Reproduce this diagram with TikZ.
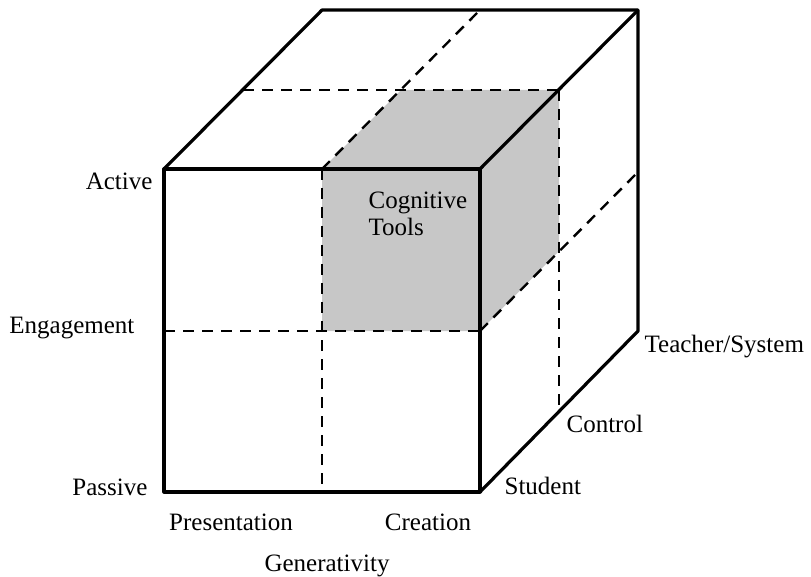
\documentclass[tikz,border=0pt]{standalone}
\usepackage{fontspec}
\setmainfont{Liberation Serif}
\usepackage{tikz}

\begin{document}
\begin{tikzpicture}[x=1pt,y=-1pt,line width=3.2pt,line join=round,
  every node/.style={font=\fontsize{25}{27}\selectfont,inner sep=0pt},
  grid/.style={line width=2.4pt,dash pattern=on 11pt off 8pt},
  shade/.style={fill=black!22,draw=none}]
\useasboundingbox (0,0) rectangle (811,577);
% cube corners
\coordinate (ftl) at (164,169);
\coordinate (ftr) at (480,169);
\coordinate (fbl) at (164,492);
\coordinate (fbr) at (480,492);
\coordinate (btl) at (322,10);
\coordinate (btr) at (638,10);
\coordinate (bbr) at (638,331);
% shaded cell
\fill[shade] (322,169) -- (401,90) -- (559,90) -- (559,251) -- (480,331) -- (322,331) -- cycle;
% dashed grid
\draw[grid] (322,169) -- (322,492);
\draw[grid] (164,331) -- (480,331);
\draw[grid] (322,169) -- (480,10);
\draw[grid] (243,90) -- (559,90);
\draw[grid] (559,90) -- (559,411);
\draw[grid] (480,331) -- (638,172);
% outline
\draw (fbl) rectangle (ftr);
\draw (ftl) -- (btl) -- (btr) -- (bbr) -- (fbr);
\draw (ftr) -- (btr);
% labels
\node (active) [anchor=base east] at (154,190) {Active};
\node (engage) [anchor=base east] at (136,333) {Engagement};
\node (passive) [anchor=base east] at (149,495) {Passive};
\node (pres) [anchor=base] at (231,530) {Presentation};
\node (creat) [anchor=base] at (428,530) {Creation};
\node (gener) [anchor=base] at (327,571) {Generativity};
\node (student) [anchor=base west] at (503,494) {Student};
\node (control) [anchor=base west] at (565,432) {Control};
\node (teacher) [anchor=base west] at (643,352) {Teacher/System};
\node (tools) [anchor=north west,align=left] at (367,190) {Cognitive\\Tools};
\end{tikzpicture}
\end{document}
